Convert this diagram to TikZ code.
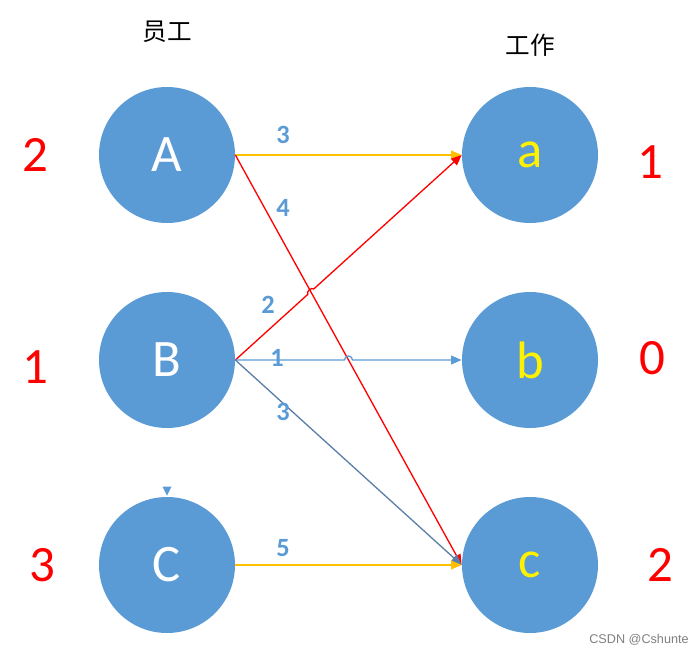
\documentclass[tikz,border=0pt]{standalone}
\usepackage{fontspec}
\setmainfont{Carlito}
\newfontfamily\cjk{Noto Sans CJK SC}
\newfontfamily\arial{Liberation Sans}
\usepackage{tikz}
\usetikzlibrary{arrows.meta,calc,positioning}
\usepackage{xcolor}

\definecolor{nodeblue}{HTML}{5B9BD5}
\definecolor{gold}{HTML}{FFC000}
\definecolor{slateblue}{HTML}{5A7FA8}

\tikzset{
  worker/.style={circle, fill=nodeblue, minimum size=2.72cm, inner sep=0pt,
    text=white, font=\fontsize{30}{30}\selectfont},
  job/.style={worker, text=yellow},
  label/.style={text=red, font=\fontsize{29}{29}\selectfont},
  weight/.style={text=nodeblue, font=\fontsize{15}{15}\selectfont\bfseries},
  title/.style={font=\cjk\fontsize{14}{14}\selectfont},
  edge/.style={-{Triangle[length=6pt,width=5pt]}, line width=0.75pt}
}

\begin{document}
\begin{tikzpicture}
  \useasboundingbox (0,0) rectangle (14,-13.1);

  % Titulos
  \node[title] (t1) at (3.34,-0.64) {员工};
  \node[title] (t2) at (10.6,-0.9) {工作};

  % Nodos
  \node[worker] (A) at (3.34,-3.1) {A};
  \node[worker] (B) at (3.34,-7.2) {B};
  \node[worker] (C) at (3.34,-11.3) {C};
  \node[job] (a) at (10.6,-3.1) {a};
  \node[job] (b) at (10.6,-7.2) {b};
  \node[job] (c) at (10.6,-11.3) {c};

  % Etiquetas
  \node[label] (lA) at (0.7,-3.1) {2};
  \node[label] (lB) at (0.7,-7.34) {1};
  \node[label] (lC) at (0.84,-11.3) {3};
  \node[label] (la) at (13.0,-3.24) {1};
  \node[label] (lb) at (13.04,-7.16) {0};
  \node[label] (lc) at (13.2,-11.3) {2};

  % Aristas
  \coordinate (hop) at ($(B.east)!1/3!(a.west)$);
  \draw[edge, gold] (A.east) -- (a.west);
  \draw[edge, red] (A.east) -- (c.west);
  \draw[edge, red] (B.east) -- ($(hop)!0.08cm!(B.east)$)
    to[bend left=90] ($(hop)!0.08cm!(a.west)$) -- (a.west);
  \draw[edge, nodeblue] (B.east) -- ($(B.east)!0.5!(b.west)+(-0.08,0)$)
    arc[start angle=180, end angle=0, radius=0.08] -- (b.west);
  \draw[edge, slateblue] (B.east) -- (c.west);
  \draw[edge, gold] (C.east) -- (c.west);
  \fill[nodeblue] ($(C.north)+(-0.09,0.2)$) -- ($(C.north)+(0.09,0.2)$)
    -- ($(C.north)+(0,0.02)$) -- cycle;

  % Pesos
  \node[weight] (w1) at (5.66,-2.7) {3};
  \node[weight] (w2) at (5.66,-4.16) {4};
  \node[weight] (w3) at (5.36,-6.1) {2};
  \node[weight] (w4) at (5.54,-7.16) {1};
  \node[weight] (w5) at (5.66,-8.24) {3};
  \node[weight] (w6) at (5.66,-10.96) {5};

  % Marca
  \node[text=gray, font=\arial\fontsize{7.2}{7.2}\selectfont] (wm) at (12.78,-12.8) {CSDN @Cshunte};
\end{tikzpicture}
\end{document}
